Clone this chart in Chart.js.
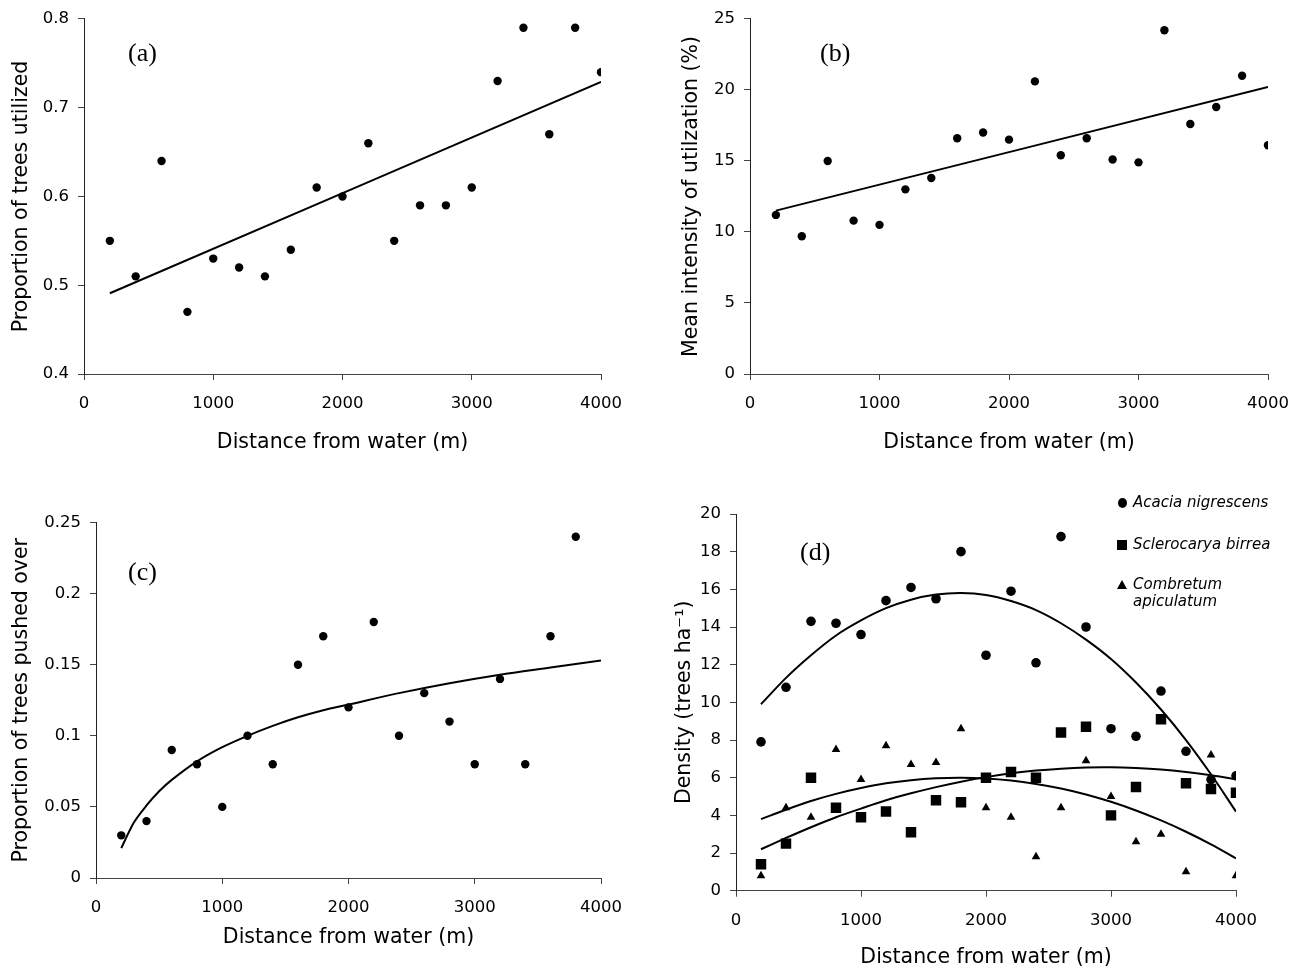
<!DOCTYPE html>
<html>
<head>
<meta charset="utf-8">
<script src="https://cdn.jsdelivr.net/npm/chart.js@4.4.1/dist/chart.umd.min.js"></script>
<style>
body { margin: 0; background: #fff; width: 1303px; height: 970px; position: relative; overflow: hidden; }
canvas { position: absolute; }
.lab { position: absolute; font-family: "Liberation Serif", "Times New Roman", serif; font-size: 26px; line-height: 26px; color: #000; }
.leg { position: absolute; left: 1133px; font-family: "DejaVu Sans", sans-serif; font-style: italic; font-size: 15px; line-height: 17px; color: #000; white-space: nowrap; }
.mk { position: absolute; background: #000; }
</style>
</head>
<body>
<canvas id="chartA" width="650" height="470" style="left:0px;top:0px"></canvas>
<canvas id="chartB" width="653" height="470" style="left:650px;top:0px"></canvas>
<canvas id="chartC" width="650" height="500" style="left:0px;top:470px"></canvas>
<canvas id="chartD" width="653" height="500" style="left:650px;top:470px"></canvas>

<div class="lab" style="left:128px;top:40px">(a)</div>
<div class="lab" style="left:820px;top:40px">(b)</div>
<div class="lab" style="left:128px;top:559px">(c)</div>
<div class="lab" style="left:800px;top:539px">(d)</div>

<div class="mk" style="left:1118px;top:498px;width:9px;height:10px;border-radius:50%"></div>
<div class="leg" style="top:494px">Acacia nigrescens</div>
<div class="mk" style="left:1117px;top:540px;width:10px;height:10px"></div>
<div class="leg" style="top:536px">Sclerocarya birrea</div>
<div class="mk" style="left:1117px;top:580px;width:0;height:0;background:none;border-left:5px solid transparent;border-right:5px solid transparent;border-bottom:9px solid #000"></div>
<div class="leg" style="top:576px">Combretum<br>apiculatum</div>

<script>
// distances (m)
var distance = [200, 400, 600, 800, 1000, 1200, 1400, 1600, 1800, 2000, 2200, 2400, 2600, 2800, 3000, 3200, 3400, 3600, 3800, 4000];
var distanceC = [200, 400, 600, 800, 1000, 1200, 1400, 1600, 1800, 2000, 2200, 2400, 2600, 2800, 3000, 3200, 3400, 3600, 3800];

// (a) proportion of trees utilized
var propUtilized = [0.55, 0.51, 0.64, 0.47, 0.53, 0.52, 0.51, 0.54, 0.61, 0.60, 0.66, 0.55, 0.59, 0.59, 0.61, 0.73, 0.79, 0.67, 0.79, 0.74];
var fitAX = [200, 4000];
var fitAY = [0.491, 0.729];

// (b) mean intensity of utilization (%)
var intensity = [11.2, 9.7, 15.0, 10.8, 10.5, 13.0, 13.8, 16.6, 17.0, 16.5, 20.6, 15.4, 16.6, 15.1, 14.9, 24.2, 17.6, 18.8, 21.0, 16.1];
var fitBX = [200, 4000];
var fitBY = [11.5, 20.2];

// (c) proportion of trees pushed over
var pushedOver = [0.03, 0.04, 0.09, 0.08, 0.05, 0.10, 0.08, 0.15, 0.17, 0.12, 0.18, 0.10, 0.13, 0.11, 0.08, 0.14, 0.08, 0.17, 0.24];
var fitCX = [200, 300, 400, 500, 600, 800, 1000, 1200, 1400, 1600, 1800, 2000, 2400, 2800, 3200, 3600, 4000];
var fitCY = [0.021, 0.039, 0.051, 0.061, 0.069, 0.082, 0.092, 0.100, 0.107, 0.113, 0.118, 0.122, 0.130, 0.137, 0.143, 0.148, 0.153];

// (d) density (trees/ha)
var acacia = [7.9, 10.8, 14.3, 14.2, 13.6, 15.4, 16.1, 15.5, 18.0, 12.5, 15.9, 12.1, 18.8, 14.0, 8.6, 8.2, 10.6, 7.4, 5.9, 6.1];
var sclerocarya = [1.4, 2.5, 6.0, 4.4, 3.9, 4.2, 3.1, 4.8, 4.7, 6.0, 6.3, 6.0, 8.4, 8.7, 4.0, 5.5, 9.1, 5.7, 5.4, 5.2];
var combretum = [0.8, 4.4, 3.9, 7.5, 5.9, 7.7, 6.7, 6.8, 8.6, 4.4, 3.9, 1.8, 4.4, 6.9, 5.0, 2.6, 3.0, 1.0, 7.2, 0.8];
var fitAcacia = [9.9, 11.3, 12.5, 13.55, 14.35, 15.0, 15.45, 15.72, 15.8, 15.7, 15.38, 14.9, 14.2, 13.33, 12.3, 11.05, 9.62, 8.0, 6.18, 4.2];
var fitSclerocarya = [2.2, 2.8, 3.37, 3.9, 4.36, 4.8, 5.17, 5.5, 5.79, 6.03, 6.23, 6.38, 6.48, 6.54, 6.55, 6.51, 6.43, 6.3, 6.13, 5.92];
var fitCombretum = [3.8, 4.3, 4.76, 5.14, 5.45, 5.7, 5.87, 5.97, 6.0, 5.96, 5.85, 5.67, 5.43, 5.11, 4.72, 4.26, 3.73, 3.13, 2.46, 1.72];

var xTitle = "Distance from water (m)";
var tickFont = { family: "DejaVu Sans", size: 16.5 };
var titleFont = { family: "DejaVu Sans", size: 20.5 };

function toXY(xs, ys) {
	var out = [];
	for (var i = 0; i < xs.length; i++) out.push({ x: xs[i], y: ys[i] });
	return out;
}

function points(xs, ys, style, radius) {
	return {
		type: "scatter",
		data: toXY(xs, ys),
		pointStyle: style,
		pointRadius: radius,
		backgroundColor: "#000",
		borderColor: "#000",
		borderWidth: 0,
		showLine: false
	};
}

function fitLine(xs, ys) {
	return {
		type: "line",
		data: toXY(xs, ys),
		borderColor: "#000",
		borderWidth: 2,
		pointRadius: 0,
		fill: false,
		tension: 0.3
	};
}

function makeChart(id, datasets, cfg) {
	var ctx = document.getElementById(id).getContext("2d");
	return new Chart(ctx, {
		type: "scatter",
		data: { datasets: datasets },
		options: {
			responsive: false,
			animation: false,
			devicePixelRatio: 1,
			layout: { padding: { top: cfg.top, right: cfg.right, left: 0, bottom: 0 } },
			plugins: { legend: { display: false }, tooltip: { enabled: false } },
			scales: {
				x: {
					type: "linear",
					min: 0,
					max: 4000,
					afterFit: function (s) { s.height = cfg.xHeight; },
					ticks: {
						stepSize: 1000,
						color: "#000",
						font: tickFont,
						padding: 14,
						maxRotation: 0,
						callback: function (v) { return String(v); }
					},
					grid: { display: true, drawOnChartArea: false, drawTicks: true, tickLength: 6, color: "#444" },
					border: { display: true, color: "#444", width: 1 },
					title: { display: true, text: xTitle, color: "#000", font: titleFont, padding: { top: 0, bottom: cfg.xTitlePad } }
				},
				y: {
					type: "linear",
					min: cfg.yMin,
					max: cfg.yMax,
					afterFit: function (s) { s.width = cfg.yWidth; },
					ticks: {
						stepSize: cfg.yStep,
						color: "#000",
						font: tickFont,
						padding: 9,
						callback: function (v) { return String(+v.toFixed(2)); }
					},
					grid: { display: true, drawOnChartArea: false, drawTicks: true, tickLength: 6, color: "#444" },
					border: { display: true, color: "#222", width: 1 },
					title: { display: true, text: cfg.yTitle, color: "#000", font: titleFont, padding: { top: cfg.yTitlePad, bottom: 0 } }
				}
			}
		}
	});
}

makeChart("chartA", [
	points(distance, propUtilized, "circle", 4.2),
	fitLine(fitAX, fitAY)
], { top: 17, right: 49, xHeight: 96, yWidth: 84, yMin: 0.4, yMax: 0.8, yStep: 0.1,
	yTitle: "Proportion of trees utilized", xTitlePad: 14.7, yTitlePad: 9.5 });

makeChart("chartB", [
	points(distance, intensity, "circle", 4.2),
	fitLine(fitBX, fitBY)
], { top: 17, right: 33, xHeight: 96, yWidth: 100, yMin: 0, yMax: 25, yStep: 5,
	yTitle: "Mean intensity of utilzation (%)", xTitlePad: 14.7, yTitlePad: 29.7 });

makeChart("chartC", [
	points(distanceC, pushedOver, "circle", 4.2),
	fitLine(fitCX, fitCY)
], { top: 52.5, right: 49, xHeight: 92, yWidth: 96, yMin: 0, yMax: 0.25, yStep: 0.05,
	yTitle: "Proportion of trees pushed over", xTitlePad: 19.7, yTitlePad: 9.5 });

makeChart("chartD", [
	points(distance, acacia, "circle", 4.8),
	points(distance, sclerocarya, "rect", 7.4),
	points(distance, combretum, "triangle", 5),
	fitLine(distance, fitAcacia),
	fitLine(distance, fitSclerocarya),
	fitLine(distance, fitCombretum)
], { top: 44, right: 67, xHeight: 79.3, yWidth: 86, yMin: 0, yMax: 20, yStep: 2,
	yTitle: "Density (trees ha\u207B\u00B9)", xTitlePad: 0, yTitlePad: 22.5 });
</script>
</body>
</html>
